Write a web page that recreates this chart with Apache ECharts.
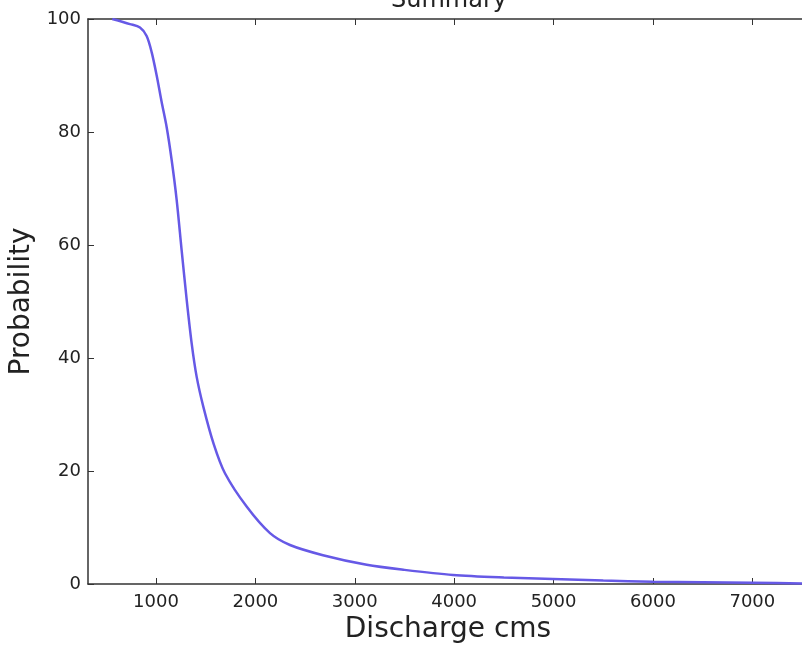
<!DOCTYPE html>
<html>
<head>
<meta charset="utf-8">
<title>Summary</title>
<script src="https://cdn.jsdelivr.net/npm/echarts@6/dist/echarts.min.js"></script>
<style>
    html, body {margin: 0; padding: 0; background: #fff;}
    #chart {width: 802px; height: 645px;}
</style>
</head>
<body>
<div id="chart"></div>
<script>
// discharge (cms)
let discharge = [560, 738, 839, 906, 957, 1007, 1057, 1108, 1158, 1208, 1258, 1309, 1359, 1409, 1476, 1580, 1694, 1912, 2147, 2348, 2680, 3120, 3500, 3988, 4500, 4994, 5500, 6000, 7000, 7560];
// exceedance probability (%)
let probability = [100, 99.1, 98.5, 97.0, 94.1, 90.0, 85.3, 80.8, 75.0, 68.0, 59.1, 50.3, 42.6, 36.7, 31.4, 24.8, 19.6, 13.7, 9.0, 6.9, 5.1, 3.4, 2.5, 1.6, 1.15, 0.88, 0.6, 0.4, 0.2, 0.1];
let xTicks = [1000, 2000, 3000, 4000, 5000, 6000, 7000];
let yTicks = [0, 20, 40, 60, 80, 100];

let font = 'DejaVu Sans';
let axisColor = '#333';
let xMin = 316, xMax = 7560;

let myChart = echarts.init(document.getElementById('chart'));

let points = discharge.map((d, i) => [d, probability[i]]);

myChart.setOption({
    animation: false,
    backgroundColor: '#fff',
    // title sits above the frame, mostly cut off by the top edge
    graphic: [
        {
            type: 'text',
            x: 449,
            y: 13,
            style: {
                text: 'Summary',
                font: '24px "DejaVu Sans"',
                fill: '#222',
                align: 'center',
                verticalAlign: 'bottom'
            }
        }
    ],
    grid: {left: 88, right: -6, top: 19, bottom: 61, outerBoundsMode: 'none', containLabel: false},
    xAxis: [
        {
            type: 'value',
            min: xMin,
            max: xMax,
            name: 'Discharge cms',
            nameLocation: 'middle',
            nameGap: 23,
            nameTextStyle: {fontFamily: font, fontSize: 28, color: '#222'},
            axisLine: {show: true, onZero: false, lineStyle: {color: axisColor, width: 1.5}},
            axisTick: {show: true, inside: true, length: 6, lineStyle: {color: axisColor}, customValues: xTicks},
            axisLabel: {fontFamily: font, fontSize: 18, color: '#222', margin: 9, customValues: xTicks,
                formatter: v => String(v)},
            splitLine: {show: false}
        },
        {
            // top frame with ticks
            type: 'value',
            position: 'top',
            min: xMin,
            max: xMax,
            axisLine: {show: true, onZero: false, lineStyle: {color: axisColor, width: 1.5}},
            axisTick: {show: true, inside: true, length: 6, lineStyle: {color: axisColor}, customValues: xTicks},
            axisLabel: {show: false},
            splitLine: {show: false}
        }
    ],
    yAxis: {
        type: 'value',
        min: 0,
        max: 100,
        interval: 20,
        name: 'Probability',
        nameLocation: 'middle',
        nameGap: 47,
        nameTextStyle: {fontFamily: font, fontSize: 28, color: '#222'},
        axisLine: {show: true, lineStyle: {color: axisColor, width: 1.5}},
        axisTick: {show: true, inside: true, length: 6, lineStyle: {color: axisColor}, customValues: yTicks},
        axisLabel: {fontFamily: font, fontSize: 18, color: '#222', margin: 7, customValues: yTicks},
        splitLine: {show: false}
    },
    series: [
        {
            type: 'line',
            data: points,
            showSymbol: false,
            smooth: 0.3,
            clip: true,
            lineStyle: {color: '#6659e6', width: 2.5}
        }
    ]
});
</script>
</body>
</html>
